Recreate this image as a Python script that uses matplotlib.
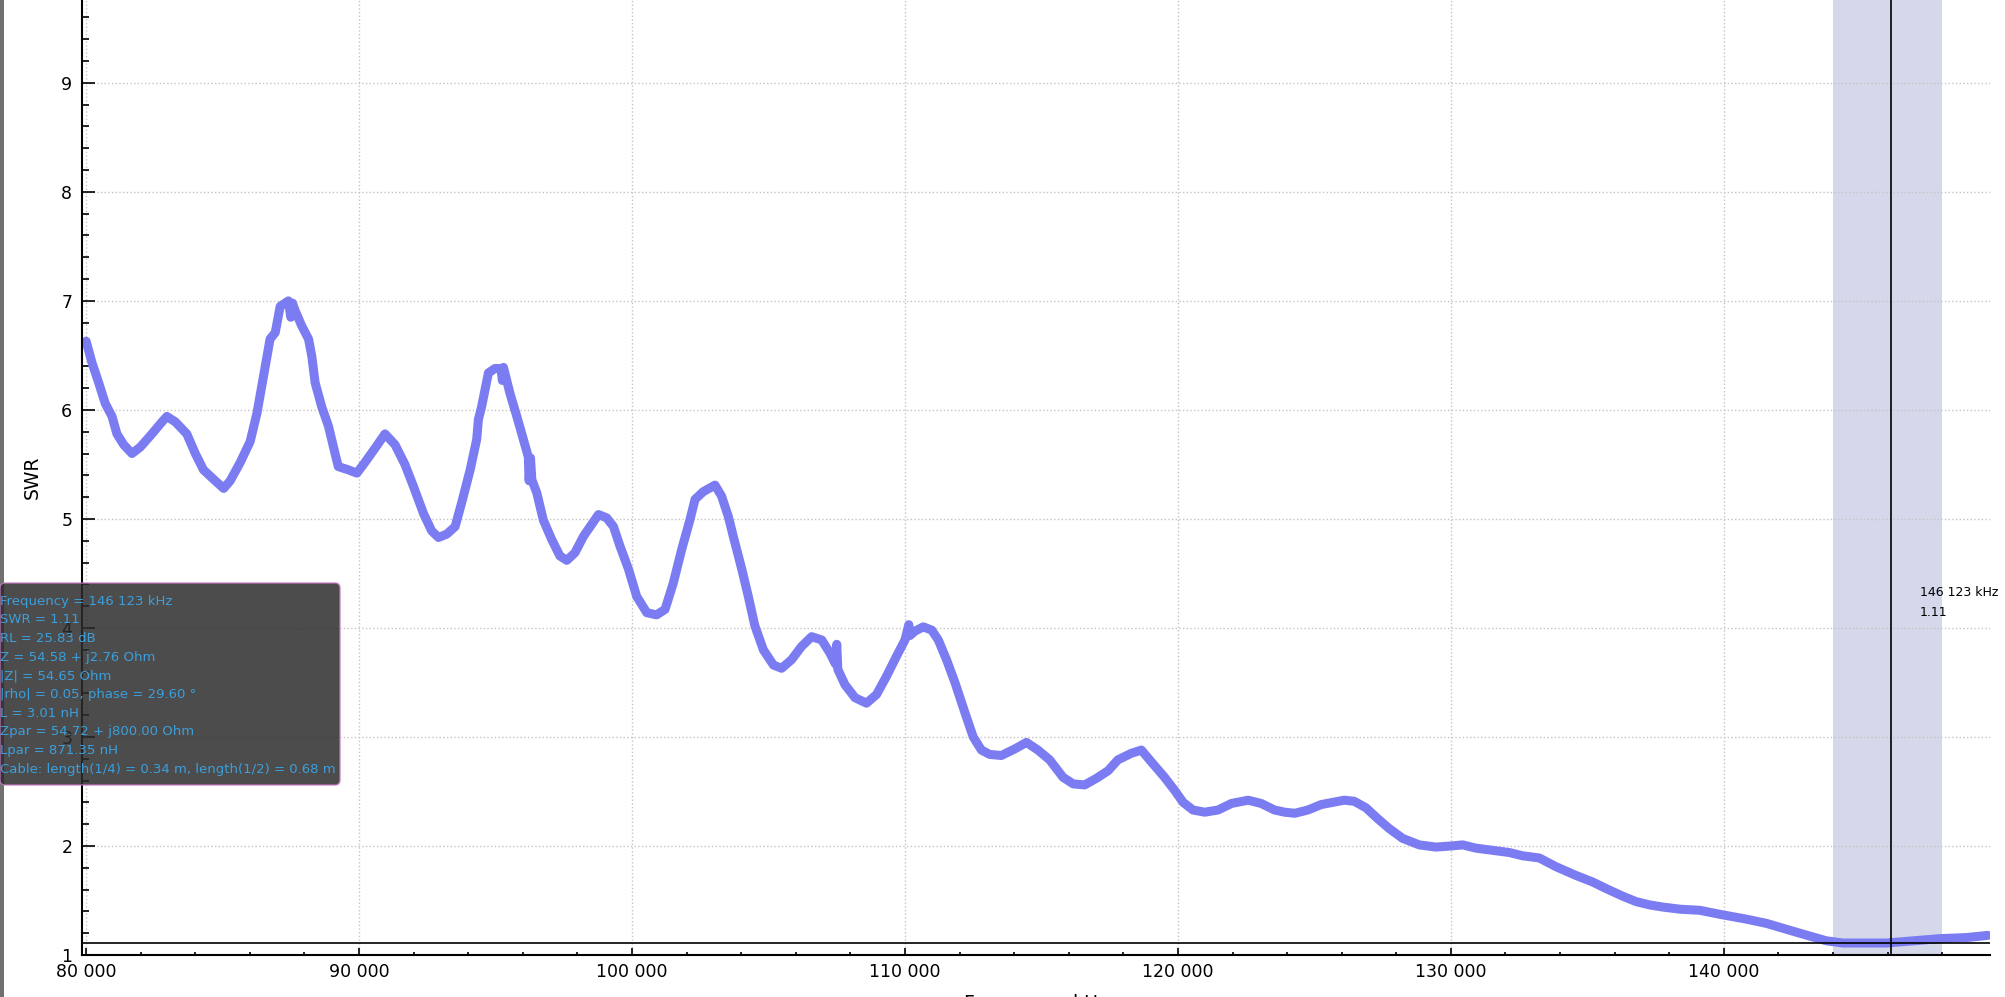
import matplotlib
matplotlib.use('Agg')
import matplotlib.pyplot as plt
import matplotlib.ticker as ticker
from matplotlib.patches import FancyBboxPatch, Rectangle

# sweep, kHz / SWR
freq = [80000, 80220, 80460, 80700, 80950, 81130, 81380, 81680, 81990, 82410,
        82780, 82960, 83270, 83690, 84000, 84300, 84730, 85040, 85280, 85650,
        86010, 86260, 86500, 86740, 86930, 87110, 87410, 87500, 87560, 87660,
        87900, 88150, 88270, 88390, 88630, 88880, 89120, 89240, 89610, 89920,
        90220, 90590, 90950, 91320, 91680, 91990, 92360, 92660, 92910, 93210,
        93520, 93760, 94070, 94310, 94370, 94490, 94740, 94980, 95200, 95250,
        95290, 95530, 95780, 96020, 96200, 96230, 96280, 96330, 96510, 96750,
        97060, 97360, 97610, 97910, 98220, 98520, 98770, 99070, 99320, 99560,
        99870, 100170, 100540, 100900, 101210, 101510, 101820, 102120, 102310, 102610,
        103040, 103280, 103530, 103710, 104020, 104260, 104500, 104810, 105180, 105480,
        105850, 106210, 106580, 106950, 107250, 107450, 107500, 107540, 107800, 108170,
        108590, 108960, 109330, 109690, 110000, 110140, 110180, 110360, 110670, 110980,
        111220, 111520, 111830, 112200, 112500, 112800, 113100, 113530, 114020, 114450,
        114870, 115300, 115790, 116160, 116580, 117010, 117440, 117800, 118290, 118660,
        119030, 119510, 119880, 120190, 120550, 120980, 121470, 121960, 122570, 123050,
        123540, 123910, 124280, 124760, 125250, 125670, 126090, 126460, 126890, 127320,
        127740, 128230, 128840, 129450, 130000, 130430, 130920, 131530, 132140, 132630,
        133240, 133850, 134580, 135190, 135680, 136290, 136780, 137270, 137750, 138400,
        139120, 139920, 140800, 141560, 142780, 143760, 144360, 145200, 145960, 146920,
        147910, 148890, 149670]
swr = [6.63, 6.43, 6.25, 6.06, 5.94, 5.78, 5.68, 5.60, 5.66, 5.78,
       5.89, 5.94, 5.89, 5.78, 5.60, 5.45, 5.35, 5.28, 5.35, 5.52,
       5.71, 5.97, 6.31, 6.65, 6.71, 6.95, 7.00, 6.85, 6.98, 6.91,
       6.77, 6.65, 6.49, 6.25, 6.03, 5.85, 5.60, 5.48, 5.45, 5.42,
       5.52, 5.65, 5.78, 5.68, 5.50, 5.30, 5.05, 4.89, 4.83, 4.86,
       4.93, 5.15, 5.45, 5.73, 5.91, 6.03, 6.34, 6.38, 6.38, 6.27,
       6.39, 6.15, 5.94, 5.73, 5.57, 5.35, 5.56, 5.36, 5.24, 4.99,
       4.81, 4.66, 4.62, 4.69, 4.84, 4.95, 5.04, 5.01, 4.93, 4.75,
       4.54, 4.29, 4.14, 4.12, 4.17, 4.41, 4.72, 4.99, 5.18, 5.25,
       5.31, 5.21, 5.02, 4.84, 4.54, 4.29, 4.02, 3.80, 3.66, 3.63,
       3.71, 3.83, 3.92, 3.89, 3.77, 3.67, 3.85, 3.62, 3.48, 3.36,
       3.31, 3.39, 3.56, 3.74, 3.89, 4.03, 3.93, 3.97, 4.01, 3.98,
       3.89, 3.71, 3.50, 3.22, 3.00, 2.88, 2.84, 2.83, 2.89, 2.95,
       2.88, 2.79, 2.63, 2.57, 2.56, 2.62, 2.69, 2.79, 2.85, 2.88,
       2.77, 2.63, 2.51, 2.40, 2.33, 2.31, 2.33, 2.39, 2.42, 2.39,
       2.33, 2.31, 2.30, 2.33, 2.38, 2.40, 2.42, 2.41, 2.35, 2.25,
       2.16, 2.07, 2.01, 1.99, 2.00, 2.01, 1.98, 1.96, 1.94, 1.91,
       1.89, 1.81, 1.73, 1.67, 1.61, 1.54, 1.49, 1.46, 1.44, 1.42,
       1.41, 1.37, 1.33, 1.29, 1.20, 1.13, 1.11, 1.11, 1.11, 1.13,
       1.15, 1.16, 1.18]

marker_freq = 146123
marker_swr = 1.11
band = (144000, 148000)

info_lines = ['Frequency = 146 123 kHz',
              'SWR = 1.11',
              'RL = 25.83 dB',
              'Z = 54.58 + j2.76 Ohm',
              '|Z| = 54.65 Ohm',
              '|rho| = 0.05, phase = 29.60 °',
              'L = 3.01 nH',
              'Zpar = 54.72 + j800.00 Ohm',
              'Lpar = 871.35 nH',
              'Cable: length(1/4) = 0.34 m, length(1/2) = 0.68 m']

W, H = 2005, 997
fig = plt.figure(figsize=(W / 100, H / 100), dpi=100)
ax = fig.add_axes([82 / W, 42 / H, (1990 - 82) / W, 955 / H])

ax.axvspan(band[0], band[1], color='#d5d7ea', lw=0, zorder=0)
ax.plot(freq, swr, color='#7b7cf2', lw=6.5, solid_capstyle='round', zorder=2)
ax.axvline(marker_freq, color='black', lw=1.2, zorder=3)
ax.axhline(marker_swr, color='black', lw=1.2, zorder=3)

ax.set_xlim(79850, 149750)
ax.set_ylim(1, 9.76)

ax.xaxis.set_major_locator(ticker.MultipleLocator(10000))
ax.xaxis.set_minor_locator(ticker.MultipleLocator(2000))
ax.yaxis.set_major_locator(ticker.MultipleLocator(1))
ax.yaxis.set_minor_locator(ticker.MultipleLocator(0.2))
ax.xaxis.set_major_formatter(ticker.FuncFormatter(lambda v, p: '{:,}'.format(int(v)).replace(',', ' ')))
ax.grid(True, which='major', color='#c4c4c4', ls=':', lw=1)

ax.tick_params(which='both', direction='in', labelsize=12.5, colors='black', width=1.2)
ax.tick_params(axis='y', which='major', length=9, pad=7)
ax.tick_params(axis='y', which='minor', length=5)
ax.tick_params(axis='x', which='major', length=5, pad=6)
ax.tick_params(axis='x', which='minor', length=2.5)

for s in ['top', 'right']:
    ax.spines[s].set_visible(False)
for s in ['left', 'bottom']:
    ax.spines[s].set_linewidth(1.5)

ax.set_ylabel('SWR', fontsize=13.5, labelpad=14)
ax.set_xlabel('Frequency, kHz', fontsize=13.5, labelpad=9)

# marker readout near the cursor
fig.text(1920 / W, 1 - 593 / H, '%d %03d kHz' % (marker_freq // 1000, marker_freq % 1000),
         fontsize=9, va='center', ha='left')
fig.text(1920 / W, 1 - 613 / H, '%.2f' % marker_swr, fontsize=9, va='center', ha='left')

# info box (semi transparent, the axis shows through)
box = FancyBboxPatch((0, (H - 785) / 100), 3.40, (785 - 583) / 100,
                     boxstyle='round,pad=0,rounding_size=0.05',
                     transform=fig.dpi_scale_trans, facecolor='#2c2c2c',
                     edgecolor='#c27ac2', lw=1, alpha=0.85, zorder=5)
fig.patches.append(box)
for i, line in enumerate(info_lines):
    fig.text(0, 1 - (601 + i * 18.7) / H, line, fontsize=9.5, color='#3c9fdc',
             va='center', ha='left', zorder=6)

# grey strip on the left edge
fig.patches.append(Rectangle((0, 0), 4 / W, 1, transform=fig.transFigure,
                             facecolor='#707070', lw=0, zorder=4))

fig.savefig('out.png', dpi=100)
